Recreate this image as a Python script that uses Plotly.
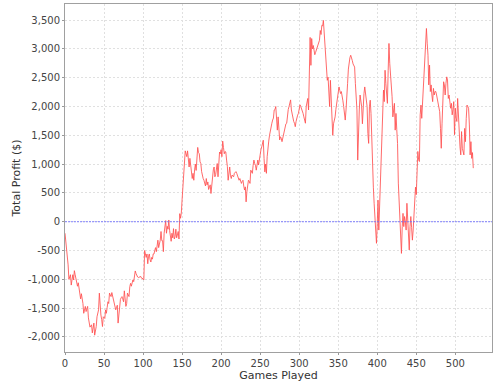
import plotly.graph_objects as go

games = list(range(0, 524))
profit = [
    -200, -330, -450, -600, -750, -1000, -960, -920, -1100, -1000,
    -920, -1010, -850, -920, -980, -1050, -1120, -1060, -1180, -1260,
    -1340, -1250, -1330, -1420, -1590, -1530, -1470, -1560, -1510, -1470,
    -1670, -1750, -1830, -1810, -1790, -1930, -1840, -1760, -1970, -1900,
    -1820, -1650, -1590, -1530, -1240, -1530, -1620, -1700, -1820, -1650,
    -1660, -1680, -1530, -1590, -1490, -1390, -1420, -1240, -1270, -1300,
    -1230, -1300, -1360, -1410, -1460, -1530, -1490, -1450, -1760, -1600,
    -1460, -1350, -1320, -1300, -1340, -1390, -1200, -1320, -1470, -1420,
    -1240, -1270, -1300, -1130, -1070, -1120, -1060, -1010, -1040, -900,
    -855, -900, -940, -960, -970, -965, -960, -950, -980, -985,
    -990, -1010, -500, -560, -620, -560, -730, -600, -560, -660,
    -700, -620, -650, -560, -560, -500, -450, -520, -380, -320,
    -450, -380, -320, -170, -330, -330, -520, -200, -30, 20,
    -200, -80, -130, 30, -150, -220, -340, -200, -280, -120,
    -300, -260, -130, -280, -200, -170, -300, 140, 60, 150,
    380, 650, 850, 1050, 1230, 1180, 1130, 1230, 1100, 950,
    1100, 1000, 920, 750, 840, 720, 900, 1000, 890, 1120,
    1290, 1200, 1180, 1040, 1010, 870, 780, 750, 720, 665,
    620, 750, 640, 690, 560, 600, 640, 490, 660, 850,
    900, 950, 780, 820, 900, 1010, 780, 1150, 1210, 1180,
    1250, 1130, 1400, 1290, 1180, 1220, 1210, 1070, 960, 720,
    880, 950, 800, 750, 810, 800, 780, 840, 860, 870,
    840, 810, 760, 720, 750, 700, 665, 700, 720, 620,
    550, 605, 345, 520, 600, 720, 700, 665, 895, 860,
    840, 980, 1070, 1010, 980, 895, 1000, 1070, 985, 1100,
    1180, 1250, 1300, 1350, 1415, 1100, 865, 1000, 840, 1130,
    1360, 1400, 1500, 1590, 1650, 1710, 1765, 1800, 1940, 1950,
    2000, 1800, 1590, 1820, 1600, 1420, 1475, 1450, 1390, 1450,
    1530, 1600, 1650, 1700, 1710, 1880, 1950, 2000, 2060, 2115,
    1940, 1850, 1765, 1740, 1710, 1650, 1740, 1820, 1850, 1880,
    1960, 2030, 2000, 1970, 1940, 1880, 1820, 1760, 1710, 2000,
    2080, 2140, 1940, 2520, 3200, 2715, 3180, 3000, 3060, 2980,
    2900, 2940, 2980, 3000, 3030, 3100, 3150, 3320, 3250, 3410,
    3400, 3495, 3300, 3000, 2800, 2600, 2455, 2510, 2250, 2000,
    2455, 2100, 1820, 1500, 1700, 1750, 1820, 1950, 2055, 2120,
    2170, 2340, 2280, 2225, 2260, 2200, 2100, 2000, 1850, 1765,
    1940, 2100, 2400, 2650, 2800, 2850, 2890, 2860, 2800, 2740,
    2700, 2685, 2400, 2225, 1940, 1070, 1700, 1940, 2200, 2050,
    2000, 1700, 2100, 2225, 2340, 2250, 2100, 2000, 1530, 1360,
    2000, 2110, 1880, 1300, 900, 600, 320, 0, -260, -375,
    -30, 375, -145, 320, 700, 1015, 1650, 2170, 2285, 2085,
    2630, 2400, 2200, 2055, 2630, 3095, 2750, 2600, 2400, 2170,
    1820, 1900, 2055, 1590, 1880, 1600, 1360, 670, 320, 100,
    -145, -550, -85, 145, -85, 90, 0, -145, 320, -30,
    -250, -490, -85, 90, -100, -320, -145, 90, 430, 600,
    470, 870, 1220, 1075, 1045, 1855, 2025, 1795, 2085, 2300,
    2430, 2890, 3240, 3355, 3100, 2890, 2375, 2720, 2260, 2375,
    2200, 2085, 2315, 2200, 2260, 2260, 2200, 2140, 2085, 2000,
    1910, 1620, 1275, 1700, 1970, 2430, 2375, 2200, 2400, 2515,
    2460, 2140, 2200, 2100, 1970, 2055, 1855, 1950, 2085, 1510,
    1970, 1800, 1740, 2140, 1740, 1450, 1300, 1160, 1565, 1275,
    1200, 1160, 1620, 1390, 1795, 2025, 2000, 1970, 1680, 1160,
    1390, 1100, 1200, 930,
]

x_ticks = [0, 50, 100, 150, 200, 250, 300, 350, 400, 450, 500]
y_ticks = [-2000, -1500, -1000, -500, 0, 500, 1000, 1500, 2000, 2500, 3000, 3500]
y_tick_text = ["-2,000", "-1,500", "-1,000", "-500", "0", "500", "1,000",
               "1,500", "2,000", "2,500", "3,000", "3,500"]

fig = go.Figure()
fig.add_trace(go.Scatter(
    x=games[:len(profit)], y=profit, mode="lines",
    line=dict(color="rgba(255,80,80,0.85)", width=1),
    hoverinfo="skip", showlegend=False,
))

fig.add_shape(type="line", xref="paper", yref="y", x0=0, x1=1, y0=0, y1=0,
              line=dict(color="rgba(110,110,255,0.85)", width=1, dash="2px,1px"))

font_family = "DejaVu Sans, Liberation Sans, sans-serif"
fig.update_layout(
    width=500, height=389,
    margin=dict(l=65, r=8, t=4, b=37),
    paper_bgcolor="white", plot_bgcolor="white",
    font=dict(family=font_family, size=10, color="#333333"),
    xaxis=dict(
        range=[0, 547], tickvals=x_ticks, ticks="outside", ticklen=2,
        tickcolor="#999999", showline=True, linecolor="#a0a0a0", mirror=True,
        showgrid=True, gridcolor="#e0e0e0", griddash="2px,2px", gridwidth=1,
        zeroline=False, automargin=False,
        title=dict(text="Games Played", font=dict(size=11, color="#333333"), standoff=2),
        tickfont=dict(size=10, color="#444444"),
    ),
    yaxis=dict(
        range=[-2262, 3780], tickvals=y_ticks, ticktext=y_tick_text,
        ticks="outside", ticklen=2, tickcolor="#999999",
        showline=True, linecolor="#a0a0a0", mirror=True,
        showgrid=True, gridcolor="#e0e0e0", griddash="2px,2px", gridwidth=1,
        zeroline=False, automargin=False,
        title=dict(text="Total Profit ($)", font=dict(size=11, color="#333333"), standoff=4),
        tickfont=dict(size=10, color="#444444"),
    ),
)

fig.write_html("out.html", config={"displayModeBar": False, "staticPlot": True})

# remove the browser's default page margin so the figure sits at the top-left corner
with open("out.html", "r", encoding="utf-8") as f:
    html = f.read()
html = html.replace("<head>", "<head><style>html,body{margin:0;padding:0;overflow:hidden;}</style>", 1)
with open("out.html", "w", encoding="utf-8") as f:
    f.write(html)
